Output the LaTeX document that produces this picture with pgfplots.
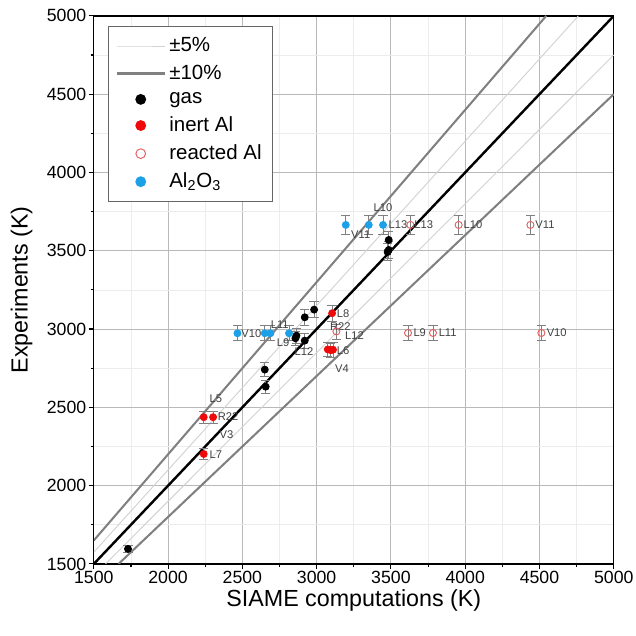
\documentclass[border=0pt]{standalone}
\usepackage{pgfplots}
\pgfplotsset{compat=1.18}
\usepackage{fontspec}
\setmainfont{Liberation Sans}
\definecolor{myblue}{RGB}{28,160,232}
\definecolor{myred}{RGB}{238,10,10}
\definecolor{hollowred}{RGB}{225,95,95}
\begin{document}
\begin{tikzpicture}
\begin{axis}[name=ax, scale only axis, width=9.81cm, height=10.34cm,
 xmin=1500,xmax=5000,ymin=1500,ymax=5000,
 xtick={1500,2000,...,5000}, ytick={1500,2000,...,5000},
 minor tick num=1, grid=both,
 major grid style={gray!55, line width=0.5pt},
 minor grid style={gray!15, line width=0.4pt},
 tick align=outside, tick pos=left,
 major tick length=0.1cm, minor tick length=0.06cm,
 tick style={black, line width=0.6pt},
 axis line style={black, line width=0.7pt},
 /pgf/number format/assume math mode=true,
 /pgf/number format/1000 sep={},
 ticklabel style={font=\fontsize{9.5}{11}\selectfont, inner sep=1pt},
 xlabel={SIAME computations (K)}, ylabel={Experiments (K)},
 label style={font=\fontsize{12.5}{14}\selectfont},
 xlabel style={at={(axis description cs:0.5,-0.066)},anchor=center},
 ylabel style={at={(axis description cs:-0.139,0.5)},anchor=center},
 legend style={at={(0.027,0.982)},anchor=north west, font=\fontsize{11}{13}\selectfont, draw=gray!80!black, line width=0.6pt, inner xsep=4pt, inner ysep=4pt, row sep=1.6pt, cells={anchor=west}},
 legend image code/.code={\draw[mark repeat=2,mark phase=2,#1,mark size=2.6pt] plot coordinates {(0cm,0cm) (0.45cm,0cm) (0.9cm,0cm)};},
]
% reference lines
\addplot[gray!35, line width=0.5pt] coordinates {(1500,1575) (4761.9,5000)};
\addlegendentry{±5\%}
\addplot[gray!35, line width=0.5pt, forget plot] coordinates {(1578.9,1500) (5000,4750)};
\addplot[black!50, line width=1.1pt] coordinates {(1500,1650) (4545.5,5000)};
\addlegendentry{±10\%}
\addplot[black!50, line width=1.1pt, forget plot] coordinates {(1666.7,1500) (5000,4500)};
\addplot[black, line width=1.3pt, forget plot] coordinates {(1500,1500) (5000,5000)};
% gas
\addplot[only marks, mark=*, mark size=1.9pt, black,
 error bars/.cd, y dir=both, y explicit,
 error bar style={gray, line width=0.4pt},
 error mark options={rotate=90, mark size=2.5pt, gray, line width=0.4pt}]
 coordinates {
 (1730,1596) +- (0,25)
 (2657,2632) +- (0,42)
 (2651,2741) +- (0,44)
 (2864,2958) +- (0,47)
 (2857,2941) +- (0,47)
 (2920,3075) +- (0,49)
 (2983,3124) +- (0,50)
 (2920,2926) +- (0,47)
 (3485,3569) +- (0,57)
 (3485,3505) +- (0,56)
 (3478,3492) +- (0,56)
 };
\addlegendentry{gas}
% inert Al
\addplot[only marks, mark=*, mark size=1.9pt, myred,
 error bars/.cd, y dir=both, y explicit,
 error bar style={gray, line width=0.4pt},
 error mark options={rotate=90, mark size=2.5pt, gray, line width=0.4pt}]
 coordinates {
 (2240,2437) +- (0,39)
 (2303,2437) +- (0,39)
 (2240,2202) +- (0,35)
 (3104,3101) +- (0,50)
 (3075,2870) +- (0,46)
 (3095,2865) +- (0,46)
 (3110,2868) +- (0,46)
 };
\addlegendentry{inert Al}
% reacted Al
\addplot[only marks, mark=o, mark size=1.9pt, hollowred, line width=0.5pt,
 error bars/.cd, y dir=both, y explicit,
 error bar style={gray, line width=0.4pt},
 error mark options={rotate=90, mark size=2.5pt, gray, line width=0.4pt}]
 coordinates {
 (3631,3665) +- (0,59)
 (3956,3665) +- (0,59)
 (4439,3665) +- (0,59)
 (3615,2975) +- (0,48)
 (3783,2975) +- (0,48)
 (4513,2975) +- (0,48)
 (3133,2985) +- (0,48)
 };
\addlegendentry{reacted Al}
% Al2O3
\addplot[only marks, mark=*, mark size=1.9pt, myblue,
 error bars/.cd, y dir=both, y explicit,
 error bar style={gray, line width=0.4pt},
 error mark options={rotate=90, mark size=2.5pt, gray, line width=0.4pt}]
 coordinates {
 (2467,2973) +- (0,48)
 (2651,2973) +- (0,48)
 (2689,2973) +- (0,48)
 (2814,2973) +- (0,48)
 (3196,3665) +- (0,59)
 (3351,3665) +- (0,59)
 (3447,3665) +- (0,59)
 };
\addlegendentry{Al\textsubscript{2}O\textsubscript{3}}
% point labels
\begin{scope}[every node/.style={font=\fontsize{6}{7}\selectfont, text=black!75, inner sep=0pt}]
\node at (axis cs:3447,3773) {L10};
\node at (axis cs:3297,3603) {V11};
\node at (axis cs:3548,3665) {L13};
\node at (axis cs:3721,3665) {L13};
\node at (axis cs:4053,3665) {L10};
\node at (axis cs:4537,3665) {V11};
\node at (axis cs:3694,2975) {L9};
\node at (axis cs:3882,2975) {L11};
\node at (axis cs:4616,2975) {V10};
\node at (axis cs:2561,2973) {V10};
\node at (axis cs:2752,3026) {L11};
\node at (axis cs:2774,2916) {L9};
\node at (axis cs:2915,2858) {L12};
\node at (axis cs:3178,3100) {L8};
\node at (axis cs:3160,3016) {R22};
\node at (axis cs:3255,2960) {L12};
\node at (axis cs:3178,2862) {L6};
\node at (axis cs:3171,2750) {V4};
\node at (axis cs:2321,2558) {L5};
\node at (axis cs:2404,2440) {R22};
\node at (axis cs:2393,2324) {V3};
\node at (axis cs:2321,2196) {L7};
\end{scope}
\end{axis}
\path ([xshift=-1.77cm,yshift=-1.36cm]ax.south west) rectangle ([xshift=0.415cm,yshift=0.30cm]ax.north east);
\end{tikzpicture}
\end{document}
